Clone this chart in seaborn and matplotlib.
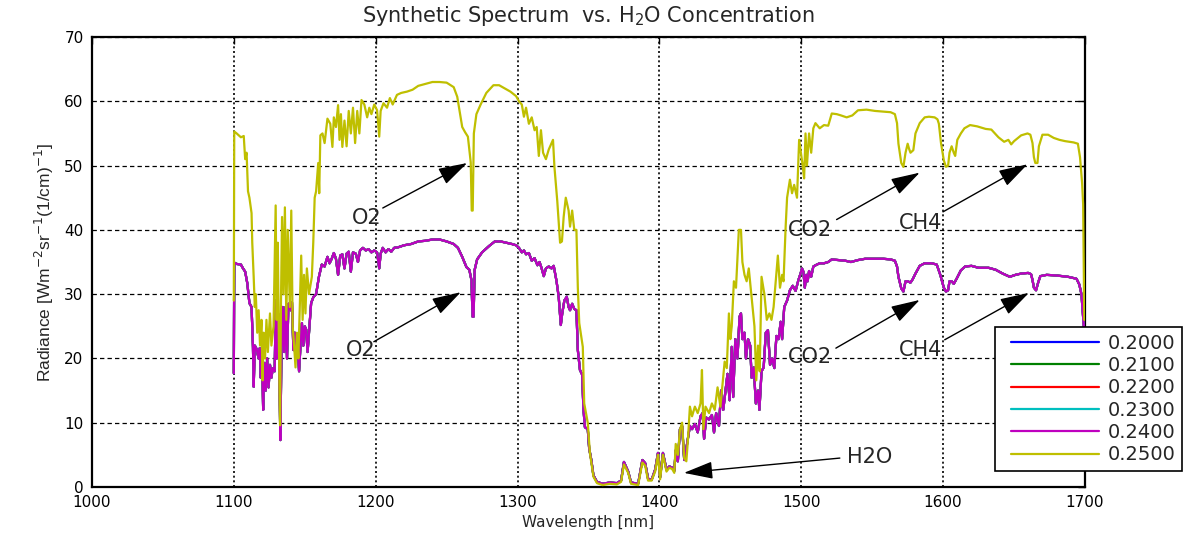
import numpy as np
import pandas as pd
import matplotlib
matplotlib.use("Agg")
import matplotlib.pyplot as plt
from matplotlib.lines import Line2D
from matplotlib.legend_handler import HandlerLine2D
import seaborn as sns

# H2O concentrations of the synthetic runs (legend entries)
concentrations = [0.20, 0.21, 0.22, 0.23, 0.24, 0.25]
series_colors = [(0, 0, 1), (0, 0.5, 0), (1, 0, 0), (0, 0.75, 0.75),
                 (0.75, 0, 0.75), (0.75, 0.75, 0)]

# Radiance spectrum shared by the 0.20 - 0.24 runs (nm, radiance)
wl_low = [1100.0, 1100.3, 1102, 1105, 1106.5, 1108, 1109.5, 1111, 1112.5, 1113.5,
          1114, 1114.8, 1116, 1117.5, 1118.3, 1119, 1119.8, 1120.7, 1121.5, 1122.5,
          1123.5, 1124.5, 1125.5, 1126.5, 1127.5, 1128.8, 1129.6, 1130.3, 1131.2, 1132,
          1132.8, 1133.5, 1134.5, 1135.5, 1136.5, 1137.5, 1138.5, 1140, 1141, 1142,
          1143, 1144, 1145, 1146, 1147, 1148, 1149, 1150, 1151, 1152,
          1153, 1154.5, 1156, 1158, 1160, 1162, 1164, 1166, 1167.5, 1169,
          1170.5, 1172, 1173.5, 1175, 1176.5, 1178, 1179.5, 1181, 1182.5, 1184,
          1186, 1187.5, 1189, 1191, 1193, 1195, 1197, 1199, 1201, 1202.5,
          1203.5, 1205, 1207, 1209, 1211, 1213, 1216, 1220, 1225, 1230,
          1235, 1240, 1245, 1250, 1255, 1258, 1261, 1264, 1266, 1267.5,
          1268.3, 1269.0, 1269.8, 1271.5, 1275, 1280, 1284, 1288, 1292, 1296,
          1299, 1301, 1303, 1304.5, 1306, 1308, 1310, 1312, 1314, 1315.5,
          1317, 1318.5, 1320, 1322, 1324, 1325.5, 1327.5, 1329, 1330.5, 1331.5,
          1333, 1334.7, 1336, 1337, 1338.5, 1340, 1341.5, 1342.5, 1344, 1345.5,
          1346.5, 1347.5, 1349.5, 1350.5, 1352, 1353.5, 1356, 1360, 1365, 1370,
          1373, 1375, 1378, 1380, 1385, 1388, 1390, 1392, 1394.5, 1397,
          1399, 1400.5, 1402.5, 1405, 1407, 1409, 1410.5, 1411.5, 1413, 1414.5,
          1416, 1417.5, 1419, 1421.5, 1423, 1425, 1427, 1429, 1430.5, 1431.5,
          1433, 1435, 1437, 1438.5, 1440, 1442, 1443.5, 1445, 1446.5, 1448,
          1449.5, 1451, 1452, 1453.5, 1455, 1456.5, 1457.5, 1458.5, 1460, 1461,
          1462.5, 1464, 1465, 1466.5, 1468, 1469.5, 1470.5, 1472, 1473.5, 1475,
          1476.5, 1478, 1479.5, 1481, 1482.5, 1484, 1485.5, 1486.5, 1488, 1490,
          1492, 1494, 1496, 1498, 1499.5, 1500.5, 1501.5, 1502.5, 1503.5, 1504.5,
          1505.5, 1507, 1508.5, 1511, 1513, 1516, 1519, 1521.5, 1526, 1531,
          1535, 1540, 1545, 1552, 1558, 1563, 1566, 1567.5, 1568.5, 1570.5,
          1572, 1573.5, 1575, 1577, 1578.5, 1580.5, 1583.5, 1587, 1592, 1595.5,
          1598, 1600.5, 1602, 1603.5, 1604.5, 1606, 1607.5, 1609.5, 1612.5, 1615.5,
          1620, 1625, 1632, 1637, 1642, 1647, 1651, 1655, 1660, 1662,
          1663, 1664, 1665.5, 1667, 1668.5, 1673, 1680, 1688, 1694, 1696,
          1697.5, 1698.5, 1699.5]
rad_low = [17.7, 34.9, 34.7, 34.6, 34.0, 33.5, 31.7, 28.6, 28.0, 21.8,
           15.6, 22.0, 21.5, 20.0, 21.6, 17.0, 21.3, 12.0, 19.3, 15.0,
           20.0, 15.5, 19.0, 17.0, 18.5, 18.0, 29.0, 20.0, 27.0, 20.0,
           7.3, 20.0, 28.0, 21.0, 28.0, 20.0, 28.5, 27.5, 28.7, 21.3,
           24.0, 20.5, 22.0, 18.0, 22.0, 25.5, 22.0, 25.0, 24.5, 21.0,
           24.0, 28.6, 29.5, 30.0, 32.7, 34.6, 34.3, 35.8, 34.8, 35.5,
           36.4, 35.5, 33.0, 36.0, 36.2, 34.0, 36.3, 36.6, 33.5, 36.5,
           36.3, 35.0, 36.8, 37.2, 36.8, 37.0, 36.5, 36.8, 36.5, 34.0,
           36.3, 37.2, 36.5, 37.0, 36.6, 37.2, 37.3, 37.6, 37.8, 38.2,
           38.3, 38.5, 38.5, 38.2, 37.8, 37.2, 35.8, 34.2, 33.8, 32.2,
           26.5, 26.5, 33.8, 35.4, 36.5, 37.5, 38.2, 38.2, 38.0, 37.8,
           37.6, 37.2, 36.5, 36.8, 36.2, 36.4, 35.2, 35.6, 34.5, 35.0,
           34.0, 32.8, 34.0, 34.3, 34.0, 34.4, 32.0, 29.6, 25.2, 27.0,
           29.0, 29.6, 28.0, 27.5, 28.5, 27.7, 27.5, 21.3, 18.2, 17.5,
           12.0, 9.3, 9.0, 6.0, 4.2, 1.8, 0.8, 0.5, 0.7, 0.6,
           1.0, 3.9, 2.4, 0.7, 0.5, 4.2, 3.7, 1.3, 1.1, 2.7,
           5.3, 1.5, 5.3, 2.7, 3.2, 3.0, 2.5, 5.7, 4.0, 9.0,
           9.5, 4.2, 6.0, 9.5, 9.0, 9.8, 8.5, 11.0, 11.5, 7.5,
           10.8, 10.5, 11.2, 8.5, 11.5, 9.5, 15.0, 12.0, 14.8, 17.6,
           13.5, 21.8, 14.0, 23.0, 20.0, 26.5, 27.0, 23.0, 24.0, 20.0,
           23.0, 22.0, 17.0, 18.6, 13.0, 15.0, 12.0, 18.0, 18.6, 24.0,
           24.4, 19.0, 20.0, 18.5, 23.5, 23.0, 25.7, 23.0, 28.0, 29.0,
           30.6, 31.3, 30.5, 32.2, 33.2, 34.0, 33.5, 31.0, 33.0, 32.0,
           33.6, 32.7, 34.3, 34.6, 34.8, 34.8, 35.0, 35.4, 35.3, 35.2,
           35.0, 35.3, 35.5, 35.5, 35.5, 35.4, 35.2, 34.3, 32.7, 30.9,
           30.4, 32.0, 32.0, 31.8, 32.3, 33.2, 34.4, 34.8, 34.8, 34.6,
           33.0, 31.0, 30.4, 30.6, 32.0, 32.0, 31.6, 32.4, 33.7, 34.3,
           34.4, 34.1, 34.1, 33.8, 33.2, 32.7, 33.0, 33.2, 33.3, 33.1,
           32.2, 31.0, 30.6, 31.8, 32.8, 33.0, 32.9, 32.7, 32.4, 31.5,
           30.0, 27.0, 24.0]

# Radiance spectrum of the 0.25 run (nm, radiance)
wl_high = [1100.0, 1100.3, 1102, 1105, 1107, 1108, 1109, 1110, 1111, 1112.5,
           1113, 1114, 1114.8, 1115.5, 1116.5, 1117.5, 1118.5, 1119.5, 1120.3, 1121,
           1122, 1123, 1124, 1125.5, 1126.5, 1128, 1129.5, 1130.2, 1131, 1131.8,
           1132.6, 1133.2, 1134, 1135, 1136, 1137, 1138, 1139.5, 1140.5, 1141.5,
           1142.5, 1143.5, 1144.5, 1145.5, 1146.5, 1147.5, 1148.5, 1149.5, 1150.5, 1151.5,
           1153, 1155, 1156, 1157, 1158, 1159.5, 1160.2, 1161, 1162.5, 1164,
           1166, 1168, 1169.5, 1170.5, 1172, 1173.5, 1174.5, 1175.5, 1176.5, 1178,
           1179.5, 1181, 1182.5, 1184, 1185.5, 1187, 1188.5, 1190, 1192, 1194,
           1195.5, 1197, 1199, 1201, 1202.5, 1203.5, 1205.5, 1208, 1210, 1212,
           1215, 1218, 1222, 1226, 1230, 1235, 1240, 1245, 1250, 1255,
           1257.5, 1259.5, 1261, 1263, 1265, 1267, 1267.7, 1268.4, 1269.2, 1271,
           1274, 1278, 1283, 1287, 1291, 1295, 1299, 1301, 1303, 1304.5,
           1306, 1308, 1310, 1312, 1313.5, 1315, 1316.5, 1318, 1320, 1322,
           1325, 1326, 1328, 1330, 1331.3, 1332.5, 1334, 1336, 1337, 1338.5,
           1340, 1341.5, 1342.5, 1343.5, 1346, 1347, 1349.5, 1351, 1353.5, 1356,
           1360, 1365, 1370, 1373, 1375, 1378, 1380, 1385, 1388, 1390,
           1392, 1394.5, 1397, 1399, 1400.5, 1402.5, 1405, 1407, 1409, 1410.5,
           1411.5, 1413, 1414.5, 1416, 1417.5, 1419, 1420, 1421.5, 1423, 1425,
           1427, 1429, 1430, 1431, 1432.5, 1435, 1437, 1439, 1441, 1443,
           1444.5, 1446, 1447.5, 1449, 1450, 1451, 1452.5, 1454, 1456, 1457.5,
           1458.5, 1460, 1461.5, 1463, 1465, 1467, 1468.3, 1469.5, 1470.7, 1472,
           1474, 1475.7, 1477.5, 1479, 1480.5, 1482, 1483.5, 1485, 1486.5, 1487.5,
           1489, 1490, 1492, 1493.5, 1495, 1497, 1498.5, 1499.5, 1501, 1502,
           1503, 1504, 1505.5, 1507, 1508.5, 1510, 1513, 1516, 1519, 1521.5,
           1525, 1528, 1532, 1536, 1540, 1546, 1552, 1558, 1563, 1566,
           1567.5, 1568.5, 1570.5, 1572, 1573.5, 1575, 1576, 1577, 1579, 1580.5,
           1583.5, 1587, 1590, 1594, 1596, 1597, 1598.5, 1600.5, 1602, 1603.5,
           1604.5, 1606, 1607.5, 1608.5, 1610, 1612.5, 1615, 1619, 1624, 1630,
           1634, 1639, 1643, 1646, 1648, 1650, 1655, 1659.5, 1661.5, 1663,
           1664, 1665, 1666.5, 1667.5, 1670, 1674, 1678, 1682, 1686, 1692,
           1695, 1696.5, 1698, 1698.7, 1699.5]
rad_high = [29.0, 55.3, 55.0, 54.4, 54.6, 51.0, 52.0, 46.0, 45.0, 42.6,
            38.0, 32.7, 28.0, 30.0, 24.0, 27.5, 22.0, 26.0, 16.6, 24.0,
            20.0, 26.0, 21.0, 27.0, 22.0, 25.0, 43.8, 26.0, 38.0, 22.0,
            9.6, 28.0, 42.0, 30.0, 43.5, 26.0, 40.0, 28.0, 43.0, 25.0,
            22.0, 18.6, 24.0, 20.0, 28.0, 36.0, 26.0, 33.0, 27.0, 34.0,
            30.0, 32.7, 38.0, 45.0, 46.0, 50.4, 45.7, 54.7, 55.0, 53.5,
            57.3, 56.5, 52.9, 57.5, 56.0, 59.4, 54.0, 58.0, 52.9, 57.0,
            53.0, 58.5, 55.0, 59.0, 53.5, 58.5, 55.0, 60.2, 59.5, 57.5,
            59.0, 58.0, 59.5, 58.6, 54.5, 58.5, 59.7, 59.0, 60.5, 59.5,
            61.0, 61.3, 61.5, 61.8, 62.4, 62.7, 63.0, 63.0, 62.9, 62.2,
            60.7, 58.0, 56.0, 55.2, 54.5, 50.5, 43.0, 43.0, 55.0, 58.0,
            59.5, 61.3, 62.5, 62.5, 62.0, 61.5, 60.8, 60.0, 59.5, 57.6,
            59.0, 56.5, 57.5, 55.5, 56.0, 51.5, 55.5, 52.0, 51.0, 52.5,
            54.0, 49.8, 44.5, 38.0, 38.2, 42.0, 45.0, 43.0, 40.5, 43.0,
            40.0, 40.0, 31.0, 25.5, 21.8, 13.0, 10.0, 5.3, 1.6, 0.6,
            0.3, 0.5, 0.4, 0.8, 3.5, 2.2, 0.5, 0.3, 3.8, 3.3,
            1.0, 1.0, 2.4, 5.0, 1.2, 5.0, 2.4, 3.0, 2.8, 2.2,
            6.7, 5.0, 8.9, 10.0, 4.5, 4.0, 7.0, 12.5, 11.0, 12.5,
            11.5, 13.0, 18.2, 9.0, 12.5, 11.5, 13.0, 12.0, 15.5, 12.5,
            16.0, 19.5, 18.5, 27.0, 23.0, 25.0, 32.0, 31.0, 40.0, 40.0,
            35.0, 33.0, 32.0, 34.0, 29.5, 25.0, 16.6, 22.0, 18.0, 32.7,
            30.0, 26.0, 27.0, 26.0, 28.0, 32.0, 36.0, 31.0, 33.0, 32.0,
            40.5, 45.0, 47.8, 45.7, 47.0, 45.0, 54.0, 52.4, 50.0, 48.0,
            55.0, 50.0, 55.0, 52.0, 55.8, 56.6, 55.8, 56.3, 56.2, 58.1,
            58.0, 57.8, 57.5, 57.8, 58.6, 58.7, 58.5, 58.4, 58.3, 58.0,
            56.6, 53.4, 50.4, 49.8, 52.0, 53.4, 52.6, 52.0, 52.4, 55.0,
            56.6, 57.5, 57.6, 57.5, 57.2, 56.5, 53.5, 50.8, 49.8, 50.0,
            52.0, 53.0, 52.0, 51.5, 54.0, 55.0, 55.8, 56.3, 56.1, 55.7,
            55.6, 54.4, 53.7, 54.0, 53.3, 53.8, 54.7, 55.0, 54.8, 53.5,
            51.3, 50.4, 50.4, 53.0, 54.8, 54.8, 54.3, 54.0, 53.8, 53.6,
            53.4, 51.3, 47.2, 44.0, 26.0]

# Absorption features: label, label centre, arrow tail, arrow tip (data units)
feature_labels = ["O2", "O2", "CO2", "CO2", "CH4", "CH4", "H2O"]
label_pos = [(1193.5, 41.8), (1189.5, 21.3), (1506.0, 40.0), (1506.0, 20.2),
             (1584.0, 41.1), (1584.0, 21.3), (1548.0, 4.7)]
arrow_tail = [(1205.0, 43.4), (1198.7, 22.6), (1524.9, 41.6), (1524.4, 21.6),
              (1599.9, 42.8), (1601.1, 22.9), (1527.2, 4.5)]
arrow_tip = [(1264.5, 50.4), (1260.0, 30.3), (1583.5, 48.9), (1583.5, 29.1),
             (1659.5, 50.2), (1660.5, 30.2), (1417.3, 2.2)]

labels = ["%.4f" % c for c in concentrations]
frames = []
for lab in labels[:-1]:
    frames.append(pd.DataFrame({"wavelength": wl_low, "radiance": rad_low, "conc": lab}))
frames.append(pd.DataFrame({"wavelength": wl_high, "radiance": rad_high, "conc": labels[-1]}))
df = pd.concat(frames, ignore_index=True)

sns.set_style("white")
plt.rcParams["font.family"] = ["DejaVu Sans"]

fig = plt.figure(figsize=(11.85, 5.37), dpi=100)
ax = fig.add_axes([0.0776, 0.0931, 0.8380, 0.8380])

sns.lineplot(data=df, x="wavelength", y="radiance", hue="conc",
             palette=dict(zip(labels, series_colors)), hue_order=labels,
             estimator=None, sort=False, linewidth=1.6, ax=ax, legend=False)

ax.set_xlim(1000, 1700)
ax.set_ylim(0, 70)
ax.set_xticks(np.arange(1000, 1701, 100))
ax.set_yticks(np.arange(0, 71, 10))

ax.xaxis.grid(True, color="black", linestyle=(0, (1.2, 1.6)), linewidth=1.2)
ax.yaxis.grid(True, color="black", linestyle=(0, (3.5, 2.5)), linewidth=0.9)
ax.set_axisbelow(False)
for line in ax.get_lines():
    line.set_zorder(3)

for sp in ax.spines.values():
    sp.set_color("black")
    sp.set_linewidth(1.6)
ax.tick_params(direction="in", length=5, width=1, top=True, right=True,
               labelsize=11, colors="black", pad=6)

ax.set_xlabel("Wavelength [nm]", fontsize=11, labelpad=3)
ax.set_ylabel(r"Radiance [Wm$^{-2}$sr$^{-1}$(1/cm)$^{-1}$]", fontsize=12.5,
              family=["Liberation Sans Narrow", "Liberation Sans"], labelpad=6)
ax.set_title(r"Synthetic Spectrum  vs. H$_2$O Concentration", fontsize=15,
             pad=11)

for text, pos, tail, tip in zip(feature_labels, label_pos, arrow_tail, arrow_tip):
    ax.text(pos[0], pos[1], text, fontsize=15, ha="center", va="center", zorder=5)
    ax.annotate("", xy=tip, xytext=tail, zorder=5,
                arrowprops=dict(arrowstyle="-|>,head_length=1.5,head_width=0.45",
                                mutation_scale=12, color="black", lw=1.0,
                                shrinkA=0, shrinkB=0))

handles = [Line2D([], [], color=c, lw=1.6) for c in series_colors]
leg = ax.legend(handles, labels, loc="upper left",
                bbox_to_anchor=(995 / 1185, 1 - 327 / 537),
                bbox_transform=fig.transFigure, borderaxespad=0,
                frameon=True, fancybox=False, edgecolor="black", framealpha=1,
                handlelength=5.0, handletextpad=0.45, borderpad=0.35,
                labelspacing=0.17, prop={"family": "DejaVu Sans", "size": 14},
                handler_map={Line2D: HandlerLine2D(xpad=0.45)})
leg.get_frame().set_linewidth(1.2)
leg.set_zorder(10)

fig.savefig("out.png", dpi=100)
